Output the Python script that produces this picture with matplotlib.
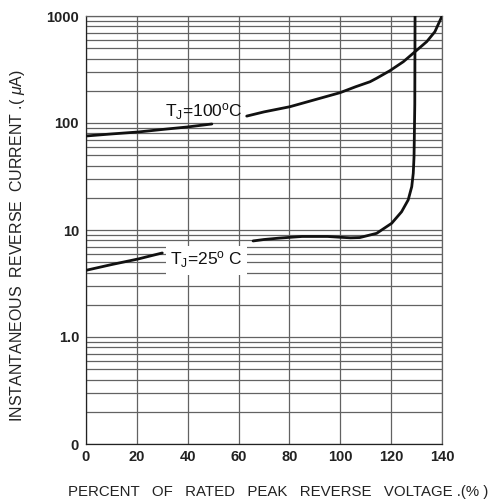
import numpy as np
import matplotlib
matplotlib.use("Agg")
import matplotlib.pyplot as plt
from matplotlib.ticker import FixedLocator, FixedFormatter, LogLocator, NullFormatter

plt.rcParams['font.family'] = ['Liberation Sans', 'DejaVu Sans']
plt.rcParams['mathtext.fontset'] = 'custom'
plt.rcParams['mathtext.rm'] = 'Liberation Sans'
plt.rcParams['mathtext.it'] = 'Liberation Sans:italic'

# ---- data ----
# Tj = 100 C  (two segments, gap around label)
t100_x_a = [0, 10, 20.5, 30, 39.7, 49.5]
t100_y_a = [75.6, 79, 82.4, 87, 91.7, 97.9]
t100_x_b = [63.2, 70, 80.2, 90, 99.9, 106, 111.7, 114.3, 119.5, 124.8, 129.4, 134, 137.2, 139.9]
t100_y_b = [116, 127, 142, 165, 192, 218, 243, 262, 308, 374, 464, 576, 713, 985]

# Tj = 25 C  (two segments, gap around label)
t25_x_a = [0, 10, 20.5, 30]
t25_y_a = [4.2, 4.75, 5.36, 6.1]
t25_x_b = [65.7, 70, 76, 85, 95, 100, 104, 107.7, 114.3, 120.2, 124.1, 126.7, 128.1, 128.7, 129.0, 129.1, 129.3, 129.4]
t25_y_b = [7.9, 8.15, 8.4, 8.7, 8.7, 8.55, 8.45, 8.5, 9.31, 11.55, 14.8, 19.1, 25.4, 33.9, 48.4, 69.4, 150, 1000]

x_ticks = [0, 20, 40, 60, 80, 100, 120, 140]
y_ticks = [0.1, 1, 10, 100, 1000]
y_ticklabels = ['0', '1.0', '10', '100', '1000']

label_100 = r'T$_\mathregular{J}$=100$^\mathregular{o}$C'
label_25 = r'T$_\mathregular{J}$=25$^\mathregular{o}$ C'

# ---- figure ----
fig = plt.figure(figsize=(4.93, 5.04), dpi=100)
ax = fig.add_axes([86/493, 1-444/504, (442-86)/493, (444-16)/504])

ax.set_yscale('log')
ax.set_xlim(0, 140)
ax.set_ylim(0.1, 1000)

grid_c = '#626262'
ax.yaxis.set_major_locator(FixedLocator(y_ticks))
ax.yaxis.set_major_formatter(FixedFormatter(y_ticklabels))
ax.yaxis.set_minor_locator(LogLocator(base=10, subs=np.arange(2, 10)))
ax.yaxis.set_minor_formatter(NullFormatter())
ax.set_xticks(x_ticks)
ax.grid(True, which='both', axis='y', color=grid_c, lw=0.9)
ax.grid(True, which='major', axis='x', color=grid_c, lw=0.9)
ax.tick_params(which='both', length=0)
ax.tick_params(axis='y', pad=5, labelsize=10.5)
ax.tick_params(axis='x', pad=4, labelsize=10.5)
for lab in ax.get_xticklabels() + ax.get_yticklabels():
    lab.set_fontweight('bold')
    lab.set_color('#222222')

for s in ax.spines.values():
    s.set_color(grid_c)
    s.set_linewidth(0.9)
ax.spines['left'].set_color('#222222')
ax.spines['bottom'].set_color('#222222')

lc = '#111111'
ax.plot(t100_x_a, t100_y_a, color=lc, lw=2.0, solid_capstyle='round', zorder=3)
ax.plot(t100_x_b, t100_y_b, color=lc, lw=2.0, solid_capstyle='round', zorder=3)
ax.plot(t25_x_a, t25_y_a, color=lc, lw=2.0, solid_capstyle='round', zorder=3)
ax.plot(t25_x_b, t25_y_b, color=lc, lw=2.0, solid_capstyle='round', zorder=3)

ax.text(46.4, 113.8, label_100, ha='center', va='baseline', fontsize=12.5,
        color='#111111', zorder=4)
ax.text(47.4, 4.7, label_25, ha='center', va='baseline', fontsize=12.5,
        color='#111111', zorder=4,
        bbox=dict(facecolor='white', edgecolor='none', pad=3))

fig.text(278/493, 1-492/504, 'PERCENT   OF   RATED   PEAK   REVERSE   VOLTAGE .(% )',
         ha='center', va='center', fontsize=10.8, color='#222222')
fig.text(18/493, 1-246/504, r'INSTANTANEOUS  REVERSE  CURRENT .( $\mu$A)',
         ha='center', va='center', rotation=90, fontsize=11.5, color='#222222')

fig.savefig('out.png', dpi=100, facecolor='white')
